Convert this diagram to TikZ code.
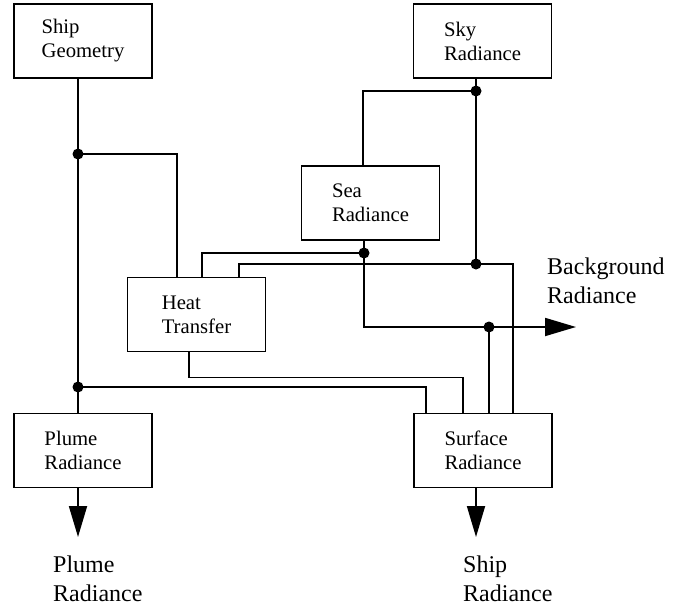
\documentclass[tikz,border=0pt]{standalone}
\usepackage{fontspec}
\setmainfont{Liberation Serif}
\usetikzlibrary{arrows.meta}
\tikzset{
  block/.style={draw, line width=1.8pt, minimum width=138pt, minimum height=74pt,
    align=left, font=\fontsize{20.7}{24}\selectfont},
  wire/.style={line width=1.8pt},
  outarrow/.style={wire, -{Triangle[length=31pt, width=18pt]}},
  outlabel/.style={align=left, anchor=west, inner sep=0pt, font=\fontsize{24}{29}\selectfont},
}
\begin{document}
\begin{tikzpicture}[x=1pt,y=-1pt]
  \useasboundingbox (0,0) rectangle (677,610);

  % Nodes
  \node[block] (ShipGeo) at (83,41) {Ship\\Geometry};
  \node[block] (SkyRad) at (482.5,41) {Sky\\Radiance};
  \node[block] (SeaRad) at (370.5,203) {Sea\\Radiance};
  \node[block] (HeatTr) at (196.5,314.5) {Heat\\Transfer};
  \node[block] (PlumeRad) at (83,450.5) {Plume\\Radiance};
  \node[block] (SurfRad) at (483,450.5) {Surface\\Radiance};

  % Junctions and free ends
  \coordinate (jGeo) at (78,154);
  \coordinate (jPlume) at (78,387);
  \coordinate (jSky) at (476,91);
  \coordinate (jSea) at (364,253);
  \coordinate (jBg) at (476,264);
  \coordinate (jOut) at (489,327);
  \coordinate (bgEnd) at (576,327);
  \coordinate (plumeEnd) at (78,537);
  \coordinate (shipEnd) at (476,537);

  % Wires
  \draw[wire] (jGeo |- ShipGeo.south) -- (jPlume |- PlumeRad.north);
  \draw[wire] (jGeo) -| ([xshift=-19.5pt]HeatTr.north);
  \draw[wire] (jPlume) -| ([xshift=-57pt]SurfRad.north);
  \draw[wire] ([xshift=-7.5pt]HeatTr.south) -- ++(0,25) -| ([xshift=-20pt]SurfRad.north);
  \draw[wire] (jSky |- SkyRad.south) -- (jBg);
  \draw[wire] (jSky) -| ([xshift=-7.5pt]SeaRad.north);
  \draw[wire] (jSea) -| ([xshift=5.5pt]HeatTr.north);
  \draw[wire] ([xshift=42.5pt]HeatTr.north) |- (jBg) -| ([xshift=30pt]SurfRad.north);
  \draw[wire] (jOut) -- (jOut |- SurfRad.north);

  % Outputs
  \draw[outarrow] (jSea |- SeaRad.south) |- (bgEnd);
  \draw[outarrow] (plumeEnd |- PlumeRad.south) -- (plumeEnd);
  \draw[outarrow] (shipEnd |- SurfRad.south) -- (shipEnd);

  \foreach \j in {jGeo,jPlume,jSky,jSea,jBg,jOut}
    \fill (\j) circle (5.5pt);

  % Labels
  \node[outlabel] (BgLabel) at (547,281) {Background\\Radiance};
  \node[outlabel] (PlumeLabel) at (53,579) {Plume\\Radiance};
  \node[outlabel] (ShipLabel) at (463,579) {Ship\\Radiance};
\end{tikzpicture}
\end{document}
